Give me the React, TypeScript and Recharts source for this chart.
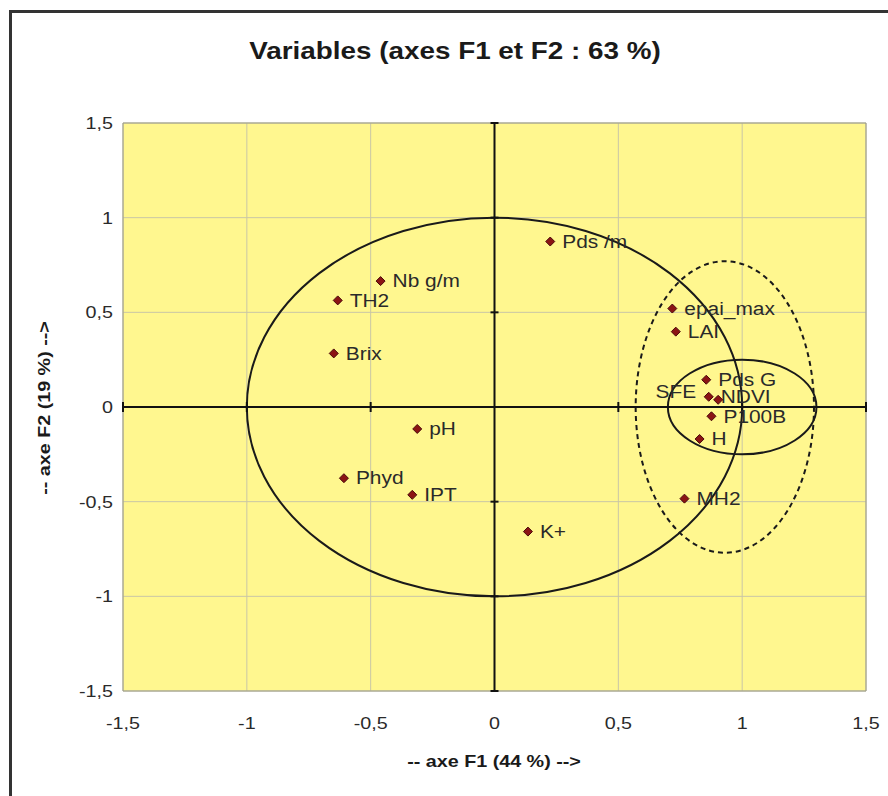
import React from "react";
import {
  ScatterChart,
  Scatter,
  XAxis,
  YAxis,
  CartesianGrid,
  ReferenceLine,
  ReferenceArea,
  ReferenceDot,
} from "recharts";

// variables (F1, F2 coordinates)
const names = [
  "Pds /m", "Nb g/m", "TH2", "Brix", "pH", "Phyd", "IPT", "K+",
  "epai_max", "LAI", "Pds G", "NDVI", "SFE", "P100B", "H", "MH2",
];
const f1 = [
  0.225, -0.46, -0.633, -0.649, -0.312, -0.608, -0.332, 0.135,
  0.718, 0.732, 0.855, 0.865, 0.903, 0.876, 0.828, 0.767,
];
const f2 = [
  0.874, 0.665, 0.563, 0.283, -0.116, -0.376, -0.464, -0.658,
  0.52, 0.398, 0.144, 0.054, 0.038, -0.049, -0.169, -0.484,
];
const leftLabels = ["SFE"];

const ticks = [-1.5, -1, -0.5, 0, 0.5, 1, 1.5];
const crossTicks = [-1.5, -1, -0.5, 0.5, 1, 1.5];

// ellipses drawn on the plot: centre and radii in axis units
const ellipseCx = [0, 1, 0.93];
const ellipseCy = [0, 0, 0];
const ellipseRx = [1, 0.3, 0.36];
const ellipseRy = [1, 0.25, 0.77];
const ellipseDashed = [false, false, true];

const data = names.map((name, i) => ({ name, x: f1[i], y: f2[i] }));

const FONT = "Arial, 'Liberation Sans', sans-serif";
const SX = 1.16; // the original text looks a bit stretched sideways
const fmt = (v: number) => String(v).replace(".", ",");

const SText = ({ x, y, anchor, size, bold, dy, children }: any) => (
  <text
    transform={`translate(${x},${y}) scale(${SX},1)`}
    textAnchor={anchor}
    dy={dy}
    fontSize={size}
    fontWeight={bold ? "bold" : "normal"}
    fontFamily={FONT}
    fill="#2a2a2a"
  >
    {children}
  </text>
);

const Diamond = (props: any) => {
  const { cx, cy, payload } = props;
  const left = leftLabels.includes(payload.name);
  return (
    <g>
      <path
        d={`M${cx},${cy - 4.5} L${cx + 4.5},${cy} L${cx},${cy + 4.5} L${cx - 4.5},${cy} Z`}
        fill="#8b1414"
        stroke="#4a0a0a"
        strokeWidth={1}
      />
      <SText
        x={left ? cx - 22 : cx + 12}
        y={left ? cy - 8 : cy}
        dy="0.35em"
        anchor={left ? "end" : "start"}
        size={18}
      >
        {payload.name}
      </SText>
    </g>
  );
};

const XTick = (props: any) => (
  <SText x={props.x} y={props.y} dy="0.71em" anchor="middle" size={17}>
    {fmt(props.payload.value)}
  </SText>
);
const YTick = (props: any) => (
  <SText x={props.x} y={props.y} dy="0.35em" anchor="end" size={17}>
    {fmt(props.payload.value)}
  </SText>
);

const hTick = (props: any) => (
  <line x1={props.cx - 4} x2={props.cx + 4} y1={props.cy} y2={props.cy} stroke="#111" strokeWidth={2} />
);
const vTick = (props: any) => (
  <line x1={props.cx} x2={props.cx} y1={props.cy - 5} y2={props.cy + 5} stroke="#111" strokeWidth={2} />
);

const titleStyle: React.CSSProperties = {
  position: "absolute",
  textAlign: "center",
  fontFamily: FONT,
  fontWeight: "bold",
  color: "#1a1a1a",
  whiteSpace: "nowrap",
};

export default function App() {
  return (
    <div style={{ position: "absolute", left: 0, top: 0, width: 888, height: 796, background: "#fff", overflow: "hidden" }}>
      <div
        style={{
          position: "absolute",
          left: 9,
          top: 10,
          width: 900,
          height: 800,
          borderLeft: "3px solid #333",
          borderTop: "3px solid #333",
        }}
      />
      <div style={{ position: "absolute", left: 0, top: 0 }}>
        <ScatterChart width={888} height={796} margin={{ top: 123, right: 22, bottom: 45, left: 63 }}>
          <CartesianGrid
            stroke="#c9c6a6"
            strokeWidth={1}
            fill="#fff78f"
            horizontalValues={ticks}
            verticalValues={ticks}
          />
          <XAxis
            type="number"
            dataKey="x"
            domain={[-1.5, 1.5]}
            ticks={ticks}
            axisLine={false}
            tickLine={false}
            tickSize={0}
            tickMargin={26}
            tick={<XTick />}
            height={60}
          />
          <YAxis
            type="number"
            dataKey="y"
            domain={[-1.5, 1.5]}
            ticks={ticks}
            axisLine={false}
            tickLine={false}
            tickSize={0}
            tickMargin={10}
            tick={<YTick />}
            width={60}
          />
          <ReferenceArea
            x1={-1.5}
            x2={1.5}
            y1={-1.5}
            y2={1.5}
            fill="none"
            stroke="#9a9a8a"
            strokeWidth={1}
          />
          {ellipseCx.map((c, i) => (
            <ReferenceArea
              key={`el-${i}`}
              x1={c - ellipseRx[i]}
              x2={c + ellipseRx[i]}
              y1={ellipseCy[i] - ellipseRy[i]}
              y2={ellipseCy[i] + ellipseRy[i]}
              ifOverflow="visible"
              shape={(p: any) => (
                <ellipse
                  cx={p.x + p.width / 2}
                  cy={p.y + p.height / 2}
                  rx={p.width / 2}
                  ry={p.height / 2}
                  fill="none"
                  stroke="#1a1a1a"
                  strokeWidth={2}
                  strokeDasharray={ellipseDashed[i] ? "5 4" : undefined}
                />
              )}
            />
          ))}
          <ReferenceLine x={0} stroke="#111" strokeWidth={2} />
          <ReferenceLine y={0} stroke="#111" strokeWidth={2} />
          {crossTicks.map((t) => (
            <ReferenceDot key={`ty-${t}`} x={0} y={t} r={1} ifOverflow="visible" shape={hTick} />
          ))}
          {crossTicks.map((t) => (
            <ReferenceDot key={`tx-${t}`} x={t} y={0} r={1} ifOverflow="visible" shape={vTick} />
          ))}
          <Scatter data={data} shape={<Diamond />} isAnimationActive={false} />
        </ScatterChart>
      </div>
      <div style={{ ...titleStyle, left: 0, width: 910, top: 37, fontSize: 24, transform: `scaleX(${SX})` }}>
        Variables (axes F1 et F2 : 63 %)
      </div>
      <div style={{ ...titleStyle, left: 294, width: 400, top: 752, fontSize: 17, transform: `scaleX(${SX})` }}>
        -- axe F1 (44 %) --&gt;
      </div>
      <div
        style={{
          ...titleStyle,
          left: 45 - 200,
          width: 400,
          top: 398,
          fontSize: 17,
          transform: `rotate(-90deg) scaleX(${SX})`,
        }}
      >
        -- axe F2 (19 %) --&gt;
      </div>
    </div>
  );
}
